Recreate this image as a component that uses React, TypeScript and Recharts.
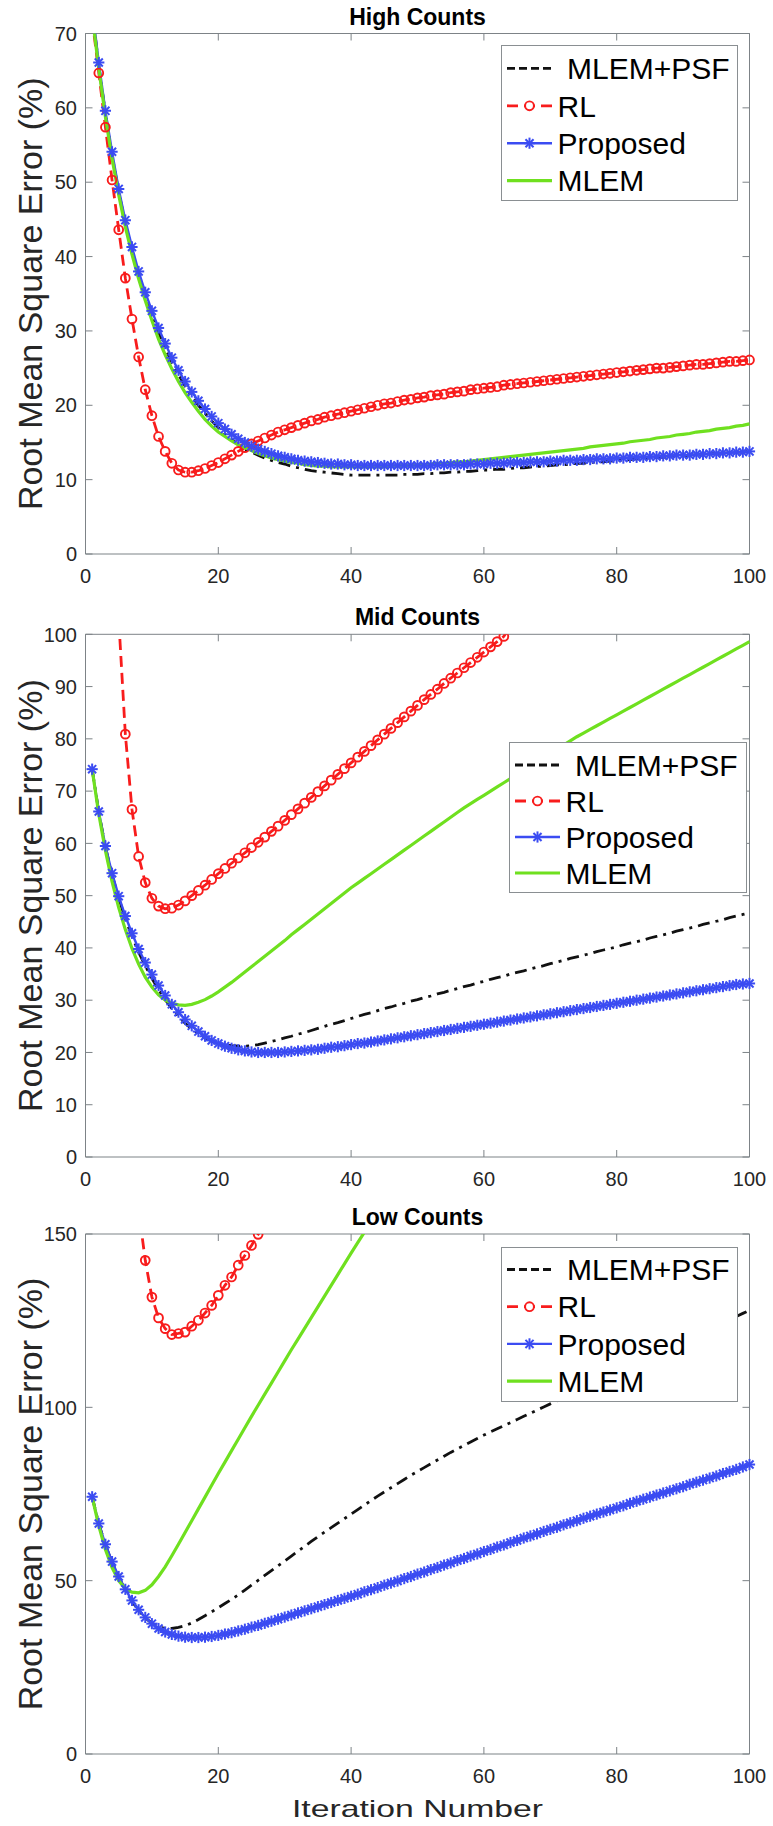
import React from 'react';
import { LineChart, Line, XAxis, YAxis, ReferenceLine, Legend } from 'recharts';

const FONT = "'Liberation Sans', Arial, Helvetica, sans-serif";
const AXIS = '#7d8387';
const TEXT = '#262626';
const C_PSF = '#111111';
const C_RL = '#f81c1c';
const C_PROP = '#3b4cf2';
const C_MLEM = '#6fe01f';

// iteration numbers on the x axis
const iterations = Array.from({ length: 100 }, (_, i) => i + 1);
const xTicks = [0, 20, 40, 60, 80, 100];

// ---- High Counts ----
const hiTicks = [0, 10, 20, 30, 40, 50, 60, 70];
const hiPsf = [
    73, 65.7, 59.2, 53.6, 48.7, 44.4, 40.7, 37.4, 34.6, 32.1,
    29.8, 27.7, 25.8, 24.1, 22.6, 21.2, 20.0, 18.9, 17.9, 17.0,
    16.1, 15.4, 14.7, 14.1, 13.7, 13.3, 12.9, 12.6, 12.3, 12.1,
    11.8, 11.6, 11.4, 11.2, 11.1, 11.0, 10.9, 10.8, 10.7, 10.6,
    10.6, 10.6, 10.6, 10.6, 10.6, 10.6, 10.6, 10.7, 10.7, 10.7,
    10.8, 10.8, 10.9, 10.9, 11.0, 11.0, 11.1, 11.1, 11.2, 11.3,
    11.3, 11.4, 11.4, 11.5, 11.6, 11.6, 11.7, 11.8, 11.8, 11.9,
    12.0, 12.0, 12.1, 12.2, 12.2, 12.3, 12.4, 12.4, 12.5, 12.6,
    12.6, 12.7, 12.8, 12.8, 12.9, 13.0, 13.0, 13.1, 13.2, 13.2,
    13.3, 13.4, 13.4, 13.5, 13.5, 13.6, 13.6, 13.7, 13.7, 13.8,
];
const hiRl = [
    72, 64.7, 57.4, 50.3, 43.6, 37.1, 31.6, 26.5, 22.1, 18.6,
    15.8, 13.8, 12.2, 11.3, 11.0, 11.0, 11.2, 11.5, 11.9, 12.3,
    12.8, 13.3, 13.8, 14.3, 14.8, 15.2, 15.6, 16.0, 16.4, 16.7,
    17.0, 17.3, 17.6, 17.9, 18.1, 18.4, 18.6, 18.8, 19.0, 19.2,
    19.4, 19.6, 19.8, 20.0, 20.2, 20.3, 20.5, 20.7, 20.8, 21.0,
    21.1, 21.3, 21.4, 21.5, 21.7, 21.8, 21.9, 22.1, 22.2, 22.3,
    22.4, 22.5, 22.7, 22.8, 22.9, 23.0, 23.1, 23.2, 23.3, 23.4,
    23.5, 23.6, 23.7, 23.8, 23.9, 24.0, 24.1, 24.2, 24.3, 24.4,
    24.5, 24.6, 24.7, 24.8, 24.9, 25.0, 25.0, 25.1, 25.2, 25.3,
    25.4, 25.5, 25.5, 25.6, 25.7, 25.8, 25.9, 25.9, 26.0, 26.1,
];
const hiProp = [
    73.5, 66.1, 59.6, 54.1, 49.1, 44.9, 41.3, 38.0, 35.2, 32.7,
    30.4, 28.3, 26.4, 24.7, 23.2, 21.8, 20.6, 19.5, 18.5, 17.6,
    16.8, 16.1, 15.5, 15.0, 14.5, 14.1, 13.8, 13.5, 13.2, 13.0,
    12.8, 12.6, 12.5, 12.4, 12.3, 12.2, 12.1, 12.1, 12.0, 12.0,
    11.9, 11.9, 11.9, 11.9, 11.9, 11.9, 11.9, 11.9, 11.9, 11.9,
    11.9, 11.9, 12.0, 12.0, 12.0, 12.0, 12.0, 12.1, 12.1, 12.1,
    12.2, 12.2, 12.2, 12.3, 12.3, 12.3, 12.4, 12.4, 12.4, 12.5,
    12.5, 12.6, 12.6, 12.6, 12.7, 12.7, 12.8, 12.8, 12.8, 12.9,
    12.9, 13.0, 13.0, 13.0, 13.1, 13.1, 13.2, 13.2, 13.3, 13.3,
    13.3, 13.4, 13.4, 13.5, 13.5, 13.6, 13.6, 13.7, 13.7, 13.8,
];
const hiMlem = [
    72.5, 65.3, 58.8, 53.2, 48.3, 44.0, 40.3, 37.0, 34.1, 31.4,
    28.9, 26.8, 24.9, 23.2, 21.7, 20.4, 19.2, 18.1, 17.2, 16.4,
    15.8, 15.2, 14.7, 14.3, 13.9, 13.5, 13.2, 12.9, 12.7, 12.5,
    12.3, 12.2, 12.0, 11.9, 11.8, 11.8, 11.7, 11.7, 11.7, 11.7,
    11.7, 11.7, 11.7, 11.7, 11.7, 11.8, 11.8, 11.9, 11.9, 12.0,
    12.0, 12.1, 12.2, 12.2, 12.3, 12.4, 12.4, 12.5, 12.6, 12.7,
    12.8, 12.9, 13.0, 13.1, 13.2, 13.3, 13.4, 13.5, 13.6, 13.7,
    13.8, 13.9, 14.0, 14.1, 14.2, 14.4, 14.5, 14.6, 14.7, 14.8,
    14.9, 15.1, 15.2, 15.3, 15.4, 15.6, 15.7, 15.8, 16.0, 16.1,
    16.2, 16.4, 16.5, 16.6, 16.8, 16.9, 17.0, 17.2, 17.3, 17.5,
];

// ---- Mid Counts ----
const midTicks = [0, 10, 20, 30, 40, 50, 60, 70, 80, 90, 100];
const midPsf = [
    74.2, 66.0, 59.3, 54.0, 49.5, 45.6, 42.2, 39.2, 36.6, 34.2,
    32.0, 30.1, 28.4, 26.9, 25.6, 24.5, 23.6, 22.8, 22.2, 21.8,
    21.5, 21.3, 21.2, 21.2, 21.3, 21.5, 21.8, 22.1, 22.4, 22.8,
    23.1, 23.5, 23.8, 24.2, 24.6, 25.0, 25.4, 25.7, 26.1, 26.5,
    26.9, 27.3, 27.6, 28.0, 28.4, 28.7, 29.1, 29.4, 29.8, 30.1,
    30.5, 30.8, 31.2, 31.5, 31.9, 32.2, 32.6, 32.9, 33.3, 33.6,
    34.0, 34.3, 34.6, 35.0, 35.3, 35.6, 36.0, 36.3, 36.6, 37.0,
    37.3, 37.6, 38.0, 38.3, 38.6, 38.9, 39.3, 39.6, 39.9, 40.2,
    40.6, 40.9, 41.2, 41.5, 41.9, 42.2, 42.5, 42.8, 43.2, 43.5,
    43.8, 44.1, 44.5, 44.8, 45.1, 45.4, 45.8, 46.1, 46.4, 46.7,
];
const midRl = [
    190, 160, 135, 117, 103, 80.9, 66.5, 57.5, 52.5, 49.5,
    48.0, 47.5, 47.6, 48.2, 49.0, 50.0, 51.0, 52.0, 53.1, 54.2,
    55.2, 56.2, 57.2, 58.2, 59.2, 60.2, 61.2, 62.3, 63.3, 64.4,
    65.5, 66.6, 67.7, 68.8, 69.9, 71.0, 72.1, 73.2, 74.3, 75.4,
    76.5, 77.6, 78.7, 79.8, 80.9, 82.0, 83.1, 84.2, 85.3, 86.4,
    87.5, 88.5, 89.5, 90.6, 91.6, 92.6, 93.6, 94.6, 95.6, 96.6,
    97.6, 98.6, 99.6, 101.5,
];
const midProp = [
    74.2, 66.1, 59.5, 54.3, 49.9, 46.1, 42.8, 39.8, 37.2, 34.9,
    32.8, 30.9, 29.2, 27.7, 26.3, 25.1, 24.0, 23.1, 22.3, 21.7,
    21.2, 20.8, 20.5, 20.3, 20.1, 20.0, 20.0, 20.0, 20.0, 20.1,
    20.2, 20.3, 20.4, 20.5, 20.6, 20.8, 21.0, 21.1, 21.3, 21.5,
    21.7, 21.8, 22.0, 22.2, 22.4, 22.6, 22.8, 23.0, 23.2, 23.4,
    23.6, 23.8, 24.0, 24.2, 24.4, 24.6, 24.8, 25.0, 25.2, 25.4,
    25.6, 25.8, 26.0, 26.2, 26.4, 26.6, 26.8, 27.0, 27.2, 27.4,
    27.6, 27.8, 28.0, 28.2, 28.4, 28.6, 28.8, 29.0, 29.2, 29.4,
    29.6, 29.8, 30.0, 30.2, 30.4, 30.6, 30.8, 31.0, 31.2, 31.4,
    31.6, 31.8, 32.0, 32.2, 32.4, 32.6, 32.8, 33.0, 33.1, 33.2,
];
const midMlem = [
    74.2, 65.6, 58.6, 52.7, 47.7, 43.5, 39.9, 36.9, 34.4, 32.5,
    31.0, 30.0, 29.4, 29.1, 29.0, 29.2, 29.6, 30.1, 30.8, 31.6,
    32.5, 33.4, 34.4, 35.4, 36.4, 37.4, 38.4, 39.4, 40.4, 41.4,
    42.5, 43.5, 44.5, 45.5, 46.5, 47.5, 48.5, 49.5, 50.5, 51.5,
    52.4, 53.3, 54.2, 55.1, 56.0, 56.9, 57.8, 58.7, 59.6, 60.5,
    61.4, 62.3, 63.2, 64.1, 65.0, 65.9, 66.8, 67.6, 68.4, 69.2,
    70.0, 70.8, 71.6, 72.4, 73.2, 74.0, 74.8, 75.6, 76.4, 77.2,
    78.0, 78.8, 79.6, 80.4, 81.1, 81.8, 82.5, 83.2, 83.9, 84.6,
    85.3, 86.0, 86.7, 87.4, 88.1, 88.8, 89.5, 90.2, 90.9, 91.6,
    92.3, 93.0, 93.7, 94.4, 95.1, 95.8, 96.5, 97.2, 97.9, 98.6,
];

// ---- Low Counts ----
const loTicks = [0, 50, 100, 150];
const loPsf = [
    74.2, 66.4, 60.3, 55.3, 51.0, 47.3, 44.1, 41.4, 39.3, 37.7,
    36.7, 36.2, 36.2, 36.5, 37.0, 37.8, 38.8, 39.9, 41.0, 42.2,
    43.4, 44.6, 45.9, 47.3, 48.7, 50.1, 51.5, 52.9, 54.3, 55.7,
    57.1, 58.5, 59.9, 61.3, 62.7, 64.0, 65.3, 66.6, 67.9, 69.2,
    70.5, 71.8, 73.1, 74.4, 75.6, 76.8, 78.0, 79.2, 80.4, 81.5,
    82.6, 83.7, 84.8, 85.9, 87.0, 88.0, 89.0, 90.0, 91.0, 92.0,
    92.9, 93.8, 94.7, 95.6, 96.5, 97.4, 98.3, 99.2, 100.1, 101.0,
    101.9, 102.8, 103.7, 104.6, 105.5, 106.4, 107.3, 108.2, 109.1, 110.0,
    110.9, 111.8, 112.7, 113.6, 114.5, 115.4, 116.3, 117.2, 118.1, 119.0,
    119.9, 120.8, 121.7, 122.6, 123.5, 124.4, 125.3, 126.2, 127.1, 128.0,
];
const loRl = [
    300, 270, 245, 222, 200, 182, 168, 157, 142.4, 131.8,
    125.8, 122.7, 121.0, 121.3, 121.7, 123.4, 125.1, 127.2, 129.4, 132.3,
    135.2, 137.6, 141.0, 143.8, 146.7, 149.9, 153,
];
const loProp = [
    74.2, 66.5, 60.5, 55.5, 51.2, 47.5, 44.3, 41.6, 39.4, 37.6,
    36.2, 35.2, 34.5, 34.0, 33.7, 33.6, 33.6, 33.7, 33.9, 34.2,
    34.6, 35.0, 35.5, 36.0, 36.6, 37.1, 37.7, 38.3, 38.9, 39.5,
    40.1, 40.7, 41.3, 41.9, 42.5, 43.1, 43.7, 44.3, 44.9, 45.5,
    46.1, 46.8, 47.4, 48.0, 48.7, 49.3, 49.9, 50.6, 51.2, 51.9,
    52.5, 53.2, 53.8, 54.5, 55.1, 55.8, 56.4, 57.1, 57.7, 58.4,
    59.0, 59.7, 60.3, 61.0, 61.6, 62.3, 62.9, 63.5, 64.2, 64.8,
    65.4, 66.1, 66.7, 67.3, 68.0, 68.6, 69.2, 69.8, 70.4, 71.0,
    71.6, 72.3, 72.9, 73.5, 74.1, 74.7, 75.3, 75.9, 76.5, 77.1,
    77.8, 78.4, 79.0, 79.6, 80.2, 80.9, 81.5, 82.1, 82.8, 83.5,
];
const loMlem = [
    74.2, 65.8, 59.0, 53.8, 50.0, 47.6, 46.7, 46.5, 47.2, 48.8,
    51.2, 54.0, 57.2, 60.5, 63.9, 67.3, 70.7, 74.1, 77.5, 80.9,
    84.2, 87.5, 90.8, 94.1, 97.4, 100.6, 103.8, 107.0, 110.2, 113.4,
    116.6, 119.7, 122.8, 125.9, 129.0, 132.1, 135.2, 138.3, 141.4, 144.5,
    147.5, 150.5, 153.5, 156.5,
];

const buildRows = (psf: number[], rl: number[], prop: number[], mlem: number[]) =>
    iterations.map((it, i) => ({
        it,
        psf: psf[i] ?? null,
        rl: rl[i] ?? null,
        prop: prop[i] ?? null,
        mlem: mlem[i] ?? null,
    }));

const PLOT_LEFT = 85.5;
const PLOT_W = 664;
const CHART_W = 773;

const StarMark = ({ cx, cy, s = 5.6, color = C_PROP }: any) => {
    const d = s * 0.72;
    return (
        <g stroke={color} strokeWidth={2}>
            <line x1={cx - s} x2={cx + s} y1={cy} y2={cy} />
            <line x1={cx} x2={cx} y1={cy - s} y2={cy + s} />
            <line x1={cx - d} x2={cx + d} y1={cy - d} y2={cy + d} />
            <line x1={cx - d} x2={cx + d} y1={cy + d} y2={cy - d} />
        </g>
    );
};

const rlDot = (p: any) => {
    if (p.cx == null || p.cy == null || p.value == null) return <g key={`r${p.index}`} />;
    return <circle key={`r${p.index}`} cx={p.cx} cy={p.cy} r={4.4} fill="none" stroke={C_RL} strokeWidth={1.9} />;
};

const starDot = (p: any) => {
    if (p.cx == null || p.cy == null || p.value == null) return <g key={`s${p.index}`} />;
    return <StarMark key={`s${p.index}`} cx={p.cx} cy={p.cy} />;
};

const LegendBox = ({ width, height, first, gap }: any) => {
    const rows = [first, first + gap, first + gap * 2, first + gap * 3];
    const txt = { fontFamily: FONT, fontSize: 30, fill: '#000' };
    return (
        <div style={{ width, height, border: '1px solid #8a8f92', background: '#fff', boxSizing: 'border-box' }}>
            <svg width={width - 2} height={height - 2} style={{ display: 'block' }}>
                <line x1={5} x2={50} y1={rows[0]} y2={rows[0]} stroke={C_PSF} strokeWidth={2.8} strokeDasharray="8 4" />
                <text x={65} y={rows[0] + 10.7} {...txt}>MLEM+PSF</text>

                <line x1={5} x2={50} y1={rows[1]} y2={rows[1]} stroke={C_RL} strokeWidth={2.8} strokeDasharray="11 6" />
                <circle cx={27.5} cy={rows[1]} r={4.4} fill="#fff" stroke={C_RL} strokeWidth={1.9} />
                <text x={55.5} y={rows[1] + 10.7} {...txt}>RL</text>

                <line x1={5} x2={50} y1={rows[2]} y2={rows[2]} stroke={C_PROP} strokeWidth={2.4} />
                <StarMark cx={27.5} cy={rows[2]} />
                <text x={55.5} y={rows[2] + 10.7} {...txt}>Proposed</text>

                <line x1={5} x2={50} y1={rows[3]} y2={rows[3]} stroke={C_MLEM} strokeWidth={3.2} />
                <text x={55.5} y={rows[3] + 10.7} {...txt}>MLEM</text>
            </svg>
        </div>
    );
};

type PanelProps = {
    top: number;
    height: number;
    marginTop: number;
    plotH: number;
    title: string;
    rows: any[];
    yMax: number;
    yTicks: number[];
    legend: { left: number; top: number; width: number; height: number; first: number; gap: number };
    xLabel?: boolean;
};

const Panel = ({ top, height, marginTop, plotH, title, rows, yMax, yTicks, legend, xLabel }: PanelProps) => {
    const xAxisH = height - marginTop - plotH;

    const xTick = (t: any) => (
        <g key={`xt${t.payload.value}`}>
            <line x1={t.x} x2={t.x} y1={t.y} y2={t.y - 7} stroke={AXIS} />
            <line x1={t.x} x2={t.x} y1={t.y - plotH} y2={t.y - plotH + 7} stroke={AXIS} />
            <text x={t.x} y={t.y + 28.7} textAnchor="middle" fontSize={20} fontFamily={FONT} fill={TEXT}>
                {t.payload.value}
            </text>
        </g>
    );

    const yTick = (t: any) => (
        <g key={`yt${t.payload.value}`}>
            <line x1={t.x} x2={t.x + 7} y1={t.y} y2={t.y} stroke={AXIS} />
            <line x1={t.x + PLOT_W} x2={t.x + PLOT_W - 7} y1={t.y} y2={t.y} stroke={AXIS} />
            <text x={t.x - 8.5} y={t.y + 7.2} textAnchor="end" fontSize={20} fontFamily={FONT} fill={TEXT}>
                {t.payload.value}
            </text>
        </g>
    );

    const cy = marginTop + plotH / 2;

    return (
        <div style={{ position: 'absolute', left: 0, top }}>
            <LineChart
                width={CHART_W}
                height={height}
                data={rows}
                margin={{ top: marginTop, right: CHART_W - PLOT_LEFT - PLOT_W, bottom: 0, left: 0 }}
            >
                <XAxis
                    dataKey="it"
                    type="number"
                    domain={[0, 100]}
                    ticks={xTicks}
                    height={xAxisH}
                    tickSize={0}
                    tickMargin={0}
                    tickLine={false}
                    axisLine={{ stroke: AXIS }}
                    tick={xTick}
                    interval={0}
                    label={
                        xLabel
                            ? () => (
                                  <text
                                      x={PLOT_LEFT + PLOT_W / 2}
                                      y={height - 9.3}
                                      textAnchor="middle"
                                      fontSize={24}
                                      fontFamily={FONT}
                                      fill={TEXT}
                                      textLength={251}
                                      lengthAdjust="spacingAndGlyphs"
                                  >
                                      Iteration Number
                                  </text>
                              )
                            : undefined
                    }
                />
                <YAxis
                    type="number"
                    domain={[0, yMax]}
                    ticks={yTicks}
                    width={PLOT_LEFT}
                    allowDataOverflow
                    tickSize={0}
                    tickMargin={0}
                    tickLine={false}
                    axisLine={{ stroke: AXIS }}
                    tick={yTick}
                    interval={0}
                    label={() => (
                        <text
                            x={41.7}
                            y={cy}
                            transform={`rotate(-90 41.7 ${cy})`}
                            textAnchor="middle"
                            fontSize={34}
                            fontFamily={FONT}
                            fill={TEXT}
                        >
                            Root Mean Square Error (%)
                        </text>
                    )}
                />
                <ReferenceLine
                    y={yMax}
                    stroke={AXIS}
                    label={() => (
                        <text
                            x={PLOT_LEFT + PLOT_W / 2}
                            y={marginTop - 9}
                            textAnchor="middle"
                            fontSize={23}
                            fontWeight="bold"
                            fontFamily={FONT}
                            fill="#000"
                        >
                            {title}
                        </text>
                    )}
                />
                <ReferenceLine x={100} stroke={AXIS} />

                <Line
                    name="MLEM+PSF"
                    dataKey="psf"
                    type="linear"
                    stroke={C_PSF}
                    strokeWidth={2.8}
                    strokeDasharray="12 6 3 6"
                    dot={false}
                    activeDot={false}
                    isAnimationActive={false}
                />
                <Line
                    name="RL"
                    dataKey="rl"
                    type="linear"
                    stroke={C_RL}
                    strokeWidth={2.8}
                    strokeDasharray="11 6"
                    dot={rlDot}
                    activeDot={false}
                    isAnimationActive={false}
                />
                <Line
                    name="Proposed"
                    dataKey="prop"
                    type="linear"
                    stroke={C_PROP}
                    strokeWidth={2.4}
                    dot={starDot}
                    activeDot={false}
                    isAnimationActive={false}
                />
                <Line
                    name="MLEM"
                    dataKey="mlem"
                    type="linear"
                    stroke={C_MLEM}
                    strokeWidth={3.2}
                    dot={false}
                    activeDot={false}
                    isAnimationActive={false}
                />

                <Legend
                    layout="vertical"
                    align="center"
                    verticalAlign="middle"
                    width={legend.width}
                    height={legend.height}
                    wrapperStyle={{ left: legend.left, top: legend.top, width: legend.width, height: legend.height }}
                    content={() => <LegendBox {...legend} />}
                />
            </LineChart>
        </div>
    );
};

const hiRows = buildRows(hiPsf, hiRl, hiProp, hiMlem);
const midRows = buildRows(midPsf, midRl, midProp, midMlem);
const loRows = buildRows(loPsf, loRl, loProp, loMlem);

export default function App() {
    return (
        <div style={{ position: 'absolute', left: 0, top: 0, width: CHART_W, height: 1826, background: '#fff' }}>
            <Panel
                top={0}
                height={600}
                marginTop={33.5}
                plotH={520.5}
                title="High Counts"
                rows={hiRows}
                yMax={70}
                yTicks={hiTicks}
                legend={{ left: 500.7, top: 45.3, width: 237, height: 156, first: 22.4, gap: 37.4 }}
            />
            <Panel
                top={600}
                height={600}
                marginTop={34.3}
                plotH={522.7}
                title="Mid Counts"
                rows={midRows}
                yMax={100}
                yTicks={midTicks}
                legend={{ left: 509, top: 142, width: 238, height: 151, first: 22, gap: 36 }}
            />
            <Panel
                top={1200}
                height={626}
                marginTop={34}
                plotH={520}
                title="Low Counts"
                rows={loRows}
                yMax={150}
                yTicks={loTicks}
                legend={{ left: 500.7, top: 46.7, width: 237, height: 155, first: 21.5, gap: 37.2 }}
                xLabel
            />
        </div>
    );
}
